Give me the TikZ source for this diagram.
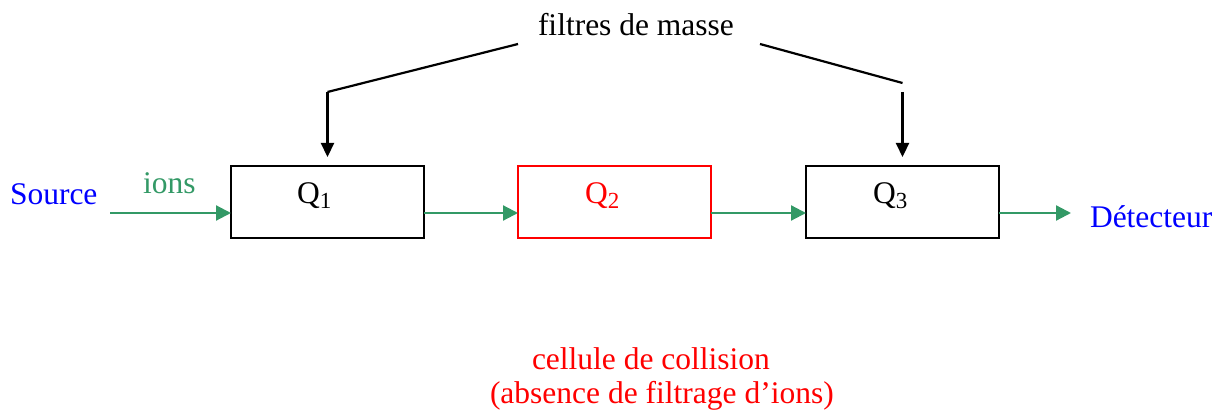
\documentclass[tikz,border=0pt]{standalone}
\usepackage{fontspec}
\setmainfont{Liberation Serif}
\usetikzlibrary{arrows.meta,calc}
\definecolor{srcblue}{HTML}{0000FF}
\definecolor{iongreen}{HTML}{339966}
\definecolor{cellred}{HTML}{FF0000}
\newcommand{\qsub}[1]{\raisebox{-5pt}{\fontsize{23}{28}\selectfont #1}}
\begin{document}
\begin{tikzpicture}[x=1pt,y=-1pt,
  txt/.style={inner sep=0pt, outer sep=0pt, anchor=base west, font=\fontsize{31.5}{38}\selectfont},
  stagebox/.style={draw=black, line width=2pt, minimum width=193pt, minimum height=72pt, inner sep=0pt, outer sep=0pt},
  ionarrow/.style={draw=iongreen, line width=2.2pt, -{Triangle[length=15pt,width=15pt]}},
  massline/.style={draw=black, line width=2.2pt},
  massarrow/.style={draw=black, line width=2.2pt, -{Triangle[length=14pt,width=13pt]}}
]
\useasboundingbox (0,0) rectangle (1232,414);
% boxes
\node[stagebox] (q1) at (327.5,202) {};
\node[stagebox, draw=cellred] (q2) at (614.5,202) {};
\node[stagebox] (q3) at (902.5,202) {};
% box labels
\node[txt] (q1t) at (297,204) {Q\qsub{1}};
\node[txt, text=cellred] (q2t) at (585,204) {Q\qsub{2}};
\node[txt] (q3t) at (873,204) {Q\qsub{3}};
% texts
\node[txt, text=srcblue] (src) at (10,205) {Source};
\node[txt, text=iongreen] (ions) at (143,194) {ions};
\node[txt, text=srcblue] (det) at (1090,228) {Détecteur};
\node[txt] (fdm) at (538,36) {filtres de masse};
\node[txt, text=cellred] (cell1) at (532,369) {cellule de collision};
\node[txt, text=cellred] (cell2) at (490,403) {(absence de filtrage d’ions)};
% ion path
\coordinate (srcend) at (110,213);
\coordinate (detend) at (1071,213);
\draw[ionarrow] (srcend) -- (q1.west |- srcend);
\draw[ionarrow] (q1.east |- srcend) -- (q2.west |- srcend);
\draw[ionarrow] (q2.east |- srcend) -- (q3.west |- srcend);
\draw[ionarrow] (q3.east |- srcend) -- (detend);
% mass filter pointers
\coordinate (ml0) at (518,44);
\coordinate (ml1) at (327.5,92);
\coordinate (ml2) at (327.5,157);
\coordinate (mr0) at (760,44);
\coordinate (mr1) at (902.5,83);
\coordinate (mr2) at (902.5,92);
\coordinate (mr3) at (902.5,157);
\draw[massline] (ml0) -- (ml1);
\draw[massarrow] (ml1) -- (ml2);
\draw[massline] (mr0) -- (mr1);
\draw[massarrow] (mr2) -- (mr3);
\end{tikzpicture}
\end{document}
